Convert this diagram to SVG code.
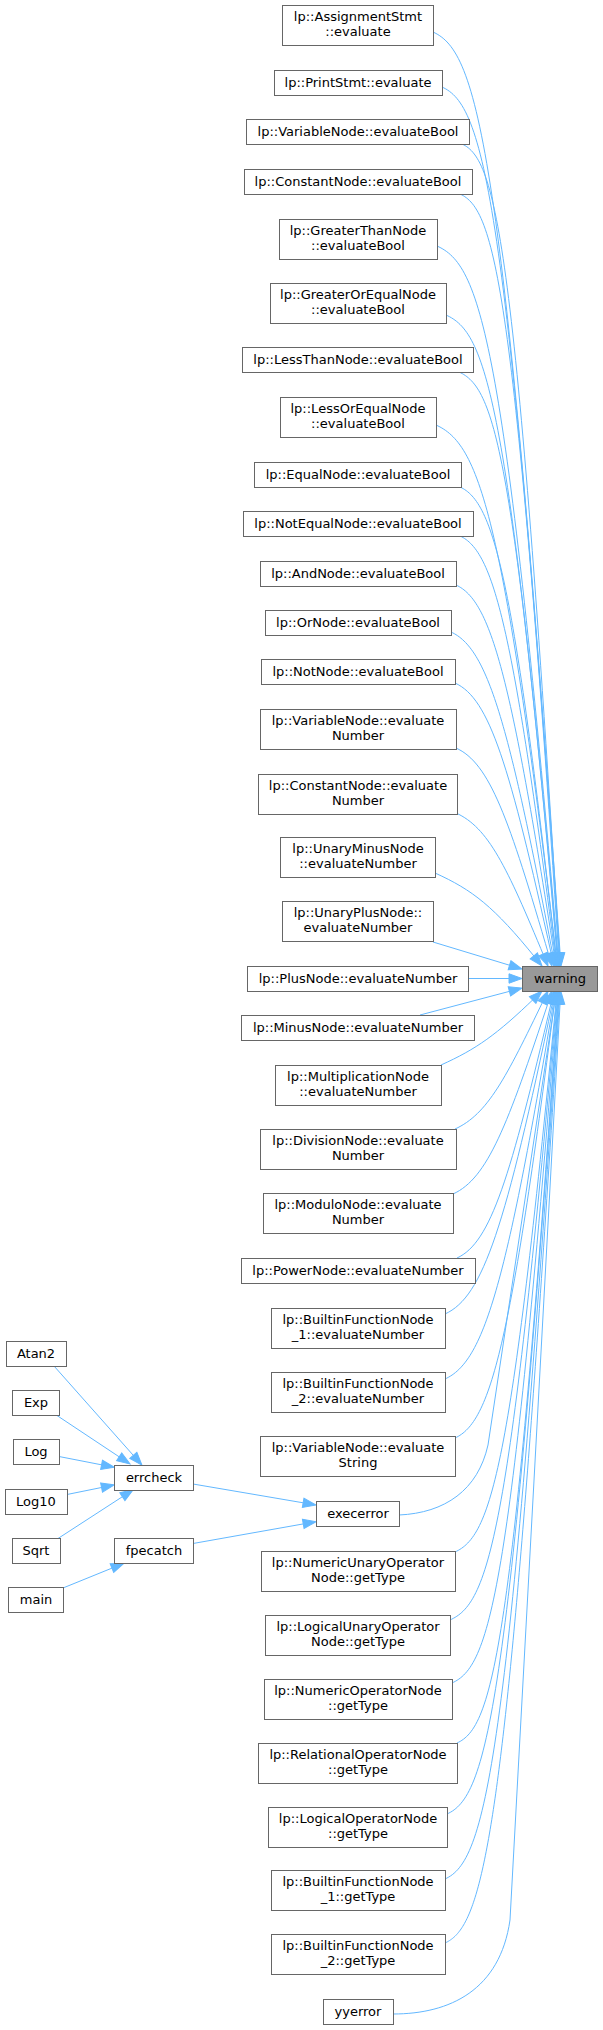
<svg xmlns="http://www.w3.org/2000/svg" width="603" height="2030" viewBox="0 0 603 2030">
<style>
.n rect{fill:#ffffff;stroke:#666666;stroke-width:1}
.n.hl rect{fill:#999999}
.n text{font-family:"DejaVu Sans","Liberation Sans",sans-serif;font-size:13px;fill:#000000;text-anchor:middle}
.e path{fill:none;stroke:#63b8ff;stroke-width:1;marker-end:url(#ah)}
</style>
<defs>
<marker id="ah" markerUnits="userSpaceOnUse" markerWidth="14" markerHeight="12" viewBox="0 -6 14 12" refX="3" refY="0" orient="auto" style="overflow:visible">
<path d="M0,-4.7 L13,0 L0,4.7 Z" fill="#63b8ff" stroke="#63b8ff" stroke-width="1"/>
</marker>
</defs>
<rect x="0" y="0" width="603" height="2030" fill="#ffffff"/>
<g id="edges" class="e">
<path d="M433,32 C477.8,52.2 503.4,142.9 560.3,956"/>
<path d="M442,87 C483.5,105.7 507.2,191.3 559.8,956"/>
<path d="M462,144 C496.3,159.4 515.9,241.4 559.4,956"/>
<path d="M460,194 C494.8,209.7 514.7,285.4 558.8,956"/>
<path d="M437,246 C479.7,265.2 504.1,331.2 558.1,956"/>
<path d="M446,315 C485.4,332.7 507.9,391.9 557.6,956"/>
<path d="M459,372 C493.7,387.6 513.5,447.2 557.1,956"/>
<path d="M436,425 C478.5,444.1 502.8,508.9 556.3,956.1"/>
<path d="M460,487 C494,502.3 513.4,577 555.9,956.1"/>
<path d="M460,536 C493.8,551.2 513.1,628 555.2,956.1"/>
<path d="M456,585 C491,600.8 511,676.3 554.5,956.1"/>
<path d="M451,632 C487.4,648.4 508.2,720.1 553.1,956.2"/>
<path d="M455,683 C489.7,698.6 509.5,764.9 551.8,956.2"/>
<path d="M456,748 C489.6,763.1 508.8,817.8 549.2,956.4"/>
<path d="M456,813 C488.2,827.5 506.6,866.1 544.2,956.8"/>
<path d="M435,873 C472.5,889.9 493.9,906.5 535.7,958.2"/>
<path d="M433,942 L512.4,966.1"/>
<path d="M468.5,978.5 L512,978.5"/>
<path d="M420,1015 L512.3,990.6"/>
<path d="M441,1065 C476.4,1049.1 496.6,1034.7 534.8,997.9"/>
<path d="M455,1129 C487.6,1114.4 506.2,1077.4 543.6,1000"/>
<path d="M453,1194 C487.7,1178.4 507.5,1125.3 548.9,1000.5"/>
<path d="M457,1258 C491,1242.7 510.4,1177 551.7,1000.7"/>
<path d="M445,1314 C483.5,1296.7 505.5,1226 552.9,1000.8"/>
<path d="M445,1379 C483.7,1361.6 505.8,1287.2 553.8,1000.9"/>
<path d="M455,1438 C490.4,1422.1 510.6,1346.8 554.7,1000.9"/>
<path d="M399,1515 C445,1513 478,1490 488,1445 L554.9,1000.9"/>
<path d="M455,1552 C490.7,1535.9 511.1,1472.6 556.1,1001"/>
<path d="M450,1620 C487.6,1603.1 509.1,1544.5 556.6,1001"/>
<path d="M452,1683 C489.1,1666.3 510.3,1600 557.2,1001"/>
<path d="M457,1743 C492.5,1727 512.8,1652.8 557.8,1001"/>
<path d="M447,1814 C486.2,1796.4 508.6,1715.2 558.3,1001"/>
<path d="M445,1879 C485.1,1861 508,1772.4 558.8,1001"/>
<path d="M445,1943 C485.3,1924.9 508.3,1828.8 559.4,1001"/>
<path d="M393,2014 C450,2014 500,1990 510,1920 L560.2,1001"/>
<path d="M54,1366 L135.3,1457.6"/>
<path d="M57,1415.5 L121.7,1458.5"/>
<path d="M59,1456.5 L104.5,1465.4"/>
<path d="M67,1494.5 L104.5,1486.9"/>
<path d="M58,1538.5 L124.9,1495.1"/>
<path d="M63,1588 L114.7,1567"/>
<path d="M193,1484 L306.1,1503.3"/>
<path d="M193,1543.5 L306.2,1523.4"/>
</g>
<g id="warning" class="n hl"><rect x="522.5" y="966.5" width="75" height="25"/><text x="560" y="983">warning</text></g>
<g id="n1" class="n"><rect x="282.5" y="5.5" width="151" height="40"/><text x="358" y="21">lp::AssignmentStmt</text><text x="358" y="36">::evaluate</text></g>
<g id="n2" class="n"><rect x="274.5" y="70.5" width="168" height="25"/><text x="358" y="87">lp::PrintStmt::evaluate</text></g>
<g id="n3" class="n"><rect x="246.5" y="119.5" width="223" height="25"/><text x="358" y="136">lp::VariableNode::evaluateBool</text></g>
<g id="n4" class="n"><rect x="244.5" y="169.5" width="228" height="25"/><text x="358" y="186">lp::ConstantNode::evaluateBool</text></g>
<g id="n5" class="n"><rect x="279.5" y="219.5" width="158" height="40"/><text x="358" y="235">lp::GreaterThanNode</text><text x="358" y="250">::evaluateBool</text></g>
<g id="n6" class="n"><rect x="270.5" y="283.5" width="176" height="40"/><text x="358" y="299">lp::GreaterOrEqualNode</text><text x="358" y="314">::evaluateBool</text></g>
<g id="n7" class="n"><rect x="242.5" y="347.5" width="231" height="25"/><text x="358" y="364">lp::LessThanNode::evaluateBool</text></g>
<g id="n8" class="n"><rect x="280.5" y="397.5" width="156" height="40"/><text x="358" y="413">lp::LessOrEqualNode</text><text x="358" y="428">::evaluateBool</text></g>
<g id="n9" class="n"><rect x="254.5" y="462.5" width="207" height="25"/><text x="358" y="479">lp::EqualNode::evaluateBool</text></g>
<g id="n10" class="n"><rect x="243.5" y="511.5" width="230" height="25"/><text x="358" y="528">lp::NotEqualNode::evaluateBool</text></g>
<g id="n11" class="n"><rect x="260.5" y="561.5" width="196" height="25"/><text x="358" y="578">lp::AndNode::evaluateBool</text></g>
<g id="n12" class="n"><rect x="265.5" y="610.5" width="186" height="25"/><text x="358" y="627">lp::OrNode::evaluateBool</text></g>
<g id="n13" class="n"><rect x="261.5" y="659.5" width="194" height="25"/><text x="358" y="676">lp::NotNode::evaluateBool</text></g>
<g id="n14" class="n"><rect x="260.5" y="709.5" width="196" height="40"/><text x="358" y="725">lp::VariableNode::evaluate</text><text x="358" y="740">Number</text></g>
<g id="n15" class="n"><rect x="258.5" y="774.5" width="199" height="40"/><text x="358" y="790">lp::ConstantNode::evaluate</text><text x="358" y="805">Number</text></g>
<g id="n16" class="n"><rect x="280.5" y="837.5" width="155" height="40"/><text x="358" y="853">lp::UnaryMinusNode</text><text x="358" y="868">::evaluateNumber</text></g>
<g id="n17" class="n"><rect x="282.5" y="901.5" width="151" height="40"/><text x="358" y="917">lp::UnaryPlusNode::</text><text x="358" y="932">evaluateNumber</text></g>
<g id="n18" class="n"><rect x="247.5" y="966.5" width="221" height="25"/><text x="358" y="983">lp::PlusNode::evaluateNumber</text></g>
<g id="n19" class="n"><rect x="241.5" y="1015.5" width="233" height="25"/><text x="358" y="1032">lp::MinusNode::evaluateNumber</text></g>
<g id="n20" class="n"><rect x="275.5" y="1065.5" width="166" height="40"/><text x="358" y="1081">lp::MultiplicationNode</text><text x="358" y="1096">::evaluateNumber</text></g>
<g id="n21" class="n"><rect x="260.5" y="1129.5" width="196" height="40"/><text x="358" y="1145">lp::DivisionNode::evaluate</text><text x="358" y="1160">Number</text></g>
<g id="n22" class="n"><rect x="263.5" y="1193.5" width="190" height="40"/><text x="358" y="1209">lp::ModuloNode::evaluate</text><text x="358" y="1224">Number</text></g>
<g id="n23" class="n"><rect x="241.5" y="1258.5" width="234" height="25"/><text x="358" y="1275">lp::PowerNode::evaluateNumber</text></g>
<g id="n24" class="n"><rect x="271.5" y="1308.5" width="174" height="40"/><text x="358" y="1324">lp::BuiltinFunctionNode</text><text x="358" y="1339">_1::evaluateNumber</text></g>
<g id="n25" class="n"><rect x="271.5" y="1372.5" width="174" height="40"/><text x="358" y="1388">lp::BuiltinFunctionNode</text><text x="358" y="1403">_2::evaluateNumber</text></g>
<g id="n26" class="n"><rect x="260.5" y="1436.5" width="195" height="40"/><text x="358" y="1452">lp::VariableNode::evaluate</text><text x="358" y="1467">String</text></g>
<g id="execerror" class="n"><rect x="316.5" y="1501.5" width="83" height="25"/><text x="358" y="1518">execerror</text></g>
<g id="n28" class="n"><rect x="261.5" y="1551.5" width="194" height="40"/><text x="358" y="1567">lp::NumericUnaryOperator</text><text x="358" y="1582">Node::getType</text></g>
<g id="n29" class="n"><rect x="265.5" y="1615.5" width="185" height="40"/><text x="358" y="1631">lp::LogicalUnaryOperator</text><text x="358" y="1646">Node::getType</text></g>
<g id="n30" class="n"><rect x="264.5" y="1679.5" width="188" height="40"/><text x="358" y="1695">lp::NumericOperatorNode</text><text x="358" y="1710">::getType</text></g>
<g id="n31" class="n"><rect x="258.5" y="1743.5" width="199" height="40"/><text x="358" y="1759">lp::RelationalOperatorNode</text><text x="358" y="1774">::getType</text></g>
<g id="n32" class="n"><rect x="268.5" y="1807.5" width="179" height="40"/><text x="358" y="1823">lp::LogicalOperatorNode</text><text x="358" y="1838">::getType</text></g>
<g id="n33" class="n"><rect x="271.5" y="1870.5" width="174" height="40"/><text x="358" y="1886">lp::BuiltinFunctionNode</text><text x="358" y="1901">_1::getType</text></g>
<g id="n34" class="n"><rect x="271.5" y="1934.5" width="174" height="40"/><text x="358" y="1950">lp::BuiltinFunctionNode</text><text x="358" y="1965">_2::getType</text></g>
<g id="yyerror" class="n"><rect x="323.5" y="1999.5" width="70" height="25"/><text x="358" y="2016">yyerror</text></g>
<g id="errcheck" class="n"><rect x="114.5" y="1465.5" width="79" height="25"/><text x="154" y="1482">errcheck</text></g>
<g id="fpecatch" class="n"><rect x="114.5" y="1538.5" width="79" height="25"/><text x="154" y="1555">fpecatch</text></g>
<g id="Atan2" class="n"><rect x="6.5" y="1341.5" width="60" height="25"/><text x="36" y="1358">Atan2</text></g>
<g id="Exp" class="n"><rect x="12.5" y="1390.5" width="47" height="25"/><text x="36" y="1407">Exp</text></g>
<g id="Log" class="n"><rect x="13.5" y="1439.5" width="46" height="25"/><text x="36" y="1456">Log</text></g>
<g id="Log10" class="n"><rect x="5.5" y="1489.5" width="62" height="25"/><text x="36" y="1506">Log10</text></g>
<g id="Sqrt" class="n"><rect x="12.5" y="1538.5" width="48" height="25"/><text x="36" y="1555">Sqrt</text></g>
<g id="main" class="n"><rect x="8.5" y="1587.5" width="55" height="25"/><text x="36" y="1604">main</text></g>
</svg>
